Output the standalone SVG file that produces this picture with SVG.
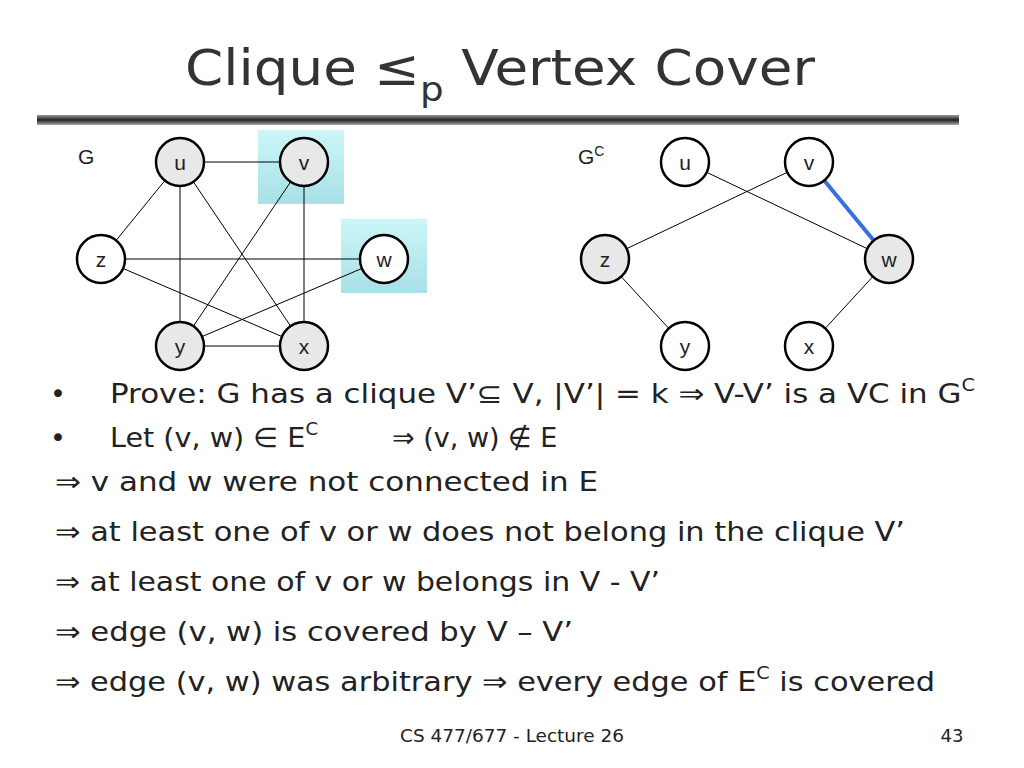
<svg xmlns="http://www.w3.org/2000/svg" width="1024" height="768" viewBox="0 0 1024 768">
<defs>
<linearGradient id="bar" x1="0" y1="0" x2="0" y2="1"><stop offset="0" stop-color="#999"/><stop offset="0.5" stop-color="#222"/><stop offset="1" stop-color="#aaa"/></linearGradient>
<linearGradient id="hl" x1="0" y1="0" x2="0" y2="1"><stop offset="0" stop-color="#ccf6f8"/><stop offset="1" stop-color="#a8e0e6"/></linearGradient>
</defs>
<style>
text{font-family:"DejaVu Sans","Liberation Sans",sans-serif;fill:#222}
.n circle{stroke:#000;stroke-width:2.5}
.g{fill:#e8e8e8}.w{fill:#fff}
.lbl{font-size:21px;text-anchor:middle;font-family:"Liberation Sans",Arial,sans-serif}
.e line{stroke:#000;stroke-width:1}
.b{font-size:27px}
</style>
<rect width="1024" height="768" fill="#fff"/>
<text x="185" y="85" font-size="50" style="fill:#333" textLength="630" lengthAdjust="spacingAndGlyphs">Clique ≤<tspan font-size="34" dy="16">p</tspan><tspan dy="-16"> Vertex Cover</tspan></text>
<rect x="37" y="115" width="922" height="10" fill="url(#bar)"/>
<rect x="258" y="130" width="86" height="74" fill="url(#hl)"/>
<rect x="341" y="219" width="86" height="74" fill="url(#hl)"/>
<text x="78" y="164" font-size="21" style="font-family:'Liberation Sans',sans-serif">G</text>
<text x="578" y="164" font-size="21" style="font-family:'Liberation Sans',sans-serif">G<tspan font-size="14" dy="-8">C</tspan></text>
<g class="e" id="edges">
<line x1="180" y1="162" x2="304" y2="162"/><line x1="180" y1="162" x2="101" y2="259"/><line x1="180" y1="162" x2="180" y2="346"/><line x1="180" y1="162" x2="304" y2="346"/>
<line x1="304" y1="162" x2="180" y2="346"/><line x1="304" y1="162" x2="304" y2="346"/><line x1="101" y1="259" x2="384" y2="259"/><line x1="101" y1="259" x2="304" y2="346"/>
<line x1="384" y1="259" x2="180" y2="346"/><line x1="180" y1="346" x2="304" y2="346"/>
<line x1="685" y1="162" x2="889" y2="259"/><line x1="809" y1="162" x2="605" y2="259"/><line x1="605" y1="259" x2="685" y2="346"/><line x1="889" y1="259" x2="809" y2="346"/>
<line x1="809" y1="162" x2="889" y2="259" style="stroke:#3a6fe0;stroke-width:4"/>
</g>
<g class="n" id="G-u"><circle class="g" cx="180" cy="162" r="24"/><text class="lbl" x="180" y="170">u</text></g>
<g class="n" id="G-v"><circle class="g" cx="304" cy="162" r="24"/><text class="lbl" x="304" y="170">v</text></g>
<g class="n" id="G-z"><circle class="w" cx="101" cy="259" r="24"/><text class="lbl" x="101" y="267">z</text></g>
<g class="n" id="G-w"><circle class="w" cx="384" cy="259" r="24"/><text class="lbl" x="384" y="267">w</text></g>
<g class="n" id="G-y"><circle class="g" cx="180" cy="346" r="24"/><text class="lbl" x="180" y="354">y</text></g>
<g class="n" id="G-x"><circle class="g" cx="304" cy="346" r="24"/><text class="lbl" x="304" y="354">x</text></g>
<g class="n" id="C-u"><circle class="w" cx="685" cy="162" r="24"/><text class="lbl" x="685" y="170">u</text></g>
<g class="n" id="C-v"><circle class="w" cx="809" cy="162" r="24"/><text class="lbl" x="809" y="170">v</text></g>
<g class="n" id="C-z"><circle class="g" cx="605" cy="259" r="24"/><text class="lbl" x="605" y="267">z</text></g>
<g class="n" id="C-w"><circle class="g" cx="889" cy="259" r="24"/><text class="lbl" x="889" y="267">w</text></g>
<g class="n" id="C-y"><circle class="w" cx="685" cy="346" r="24"/><text class="lbl" x="685" y="354">y</text></g>
<g class="n" id="C-x"><circle class="w" cx="809" cy="346" r="24"/><text class="lbl" x="809" y="354">x</text></g>
<text class="b" x="50" y="403">•</text>
<text class="b" x="110" y="403" textLength="865" lengthAdjust="spacingAndGlyphs">Prove: G has a clique V’⊆ V, |V’| = k ⇒ V-V’ is a VC in G<tspan font-size="17" dy="-12">C</tspan></text>
<text class="b" x="50" y="447">•</text>
<text class="b" x="110" y="447" textLength="208" lengthAdjust="spacingAndGlyphs">Let (v, w) ∈ E<tspan font-size="17" dy="-12">C</tspan></text>
<text class="b" x="392" y="447">⇒ (v, w) ∉ E</text>
<text class="b" x="55" y="491" textLength="543" lengthAdjust="spacingAndGlyphs">⇒ v and w were not connected in E</text>
<text class="b" x="55" y="541" textLength="850" lengthAdjust="spacingAndGlyphs">⇒ at least one of v or w does not belong in the clique V’</text>
<text class="b" x="55" y="591" textLength="605" lengthAdjust="spacingAndGlyphs">⇒ at least one of v or w belongs in V - V’</text>
<text class="b" x="55" y="641" textLength="518" lengthAdjust="spacingAndGlyphs">⇒ edge (v, w) is covered by V – V’</text>
<text class="b" x="55" y="691" textLength="880" lengthAdjust="spacingAndGlyphs">⇒ edge (v, w) was arbitrary ⇒ every edge of E<tspan font-size="17" dy="-12">C</tspan><tspan dy="12"> is covered</tspan></text>
<text x="400" y="742" font-size="18" textLength="224" lengthAdjust="spacingAndGlyphs">CS 477/677 - Lecture 26</text>
<text x="952" y="742" font-size="18" text-anchor="middle">43</text>
</svg>
